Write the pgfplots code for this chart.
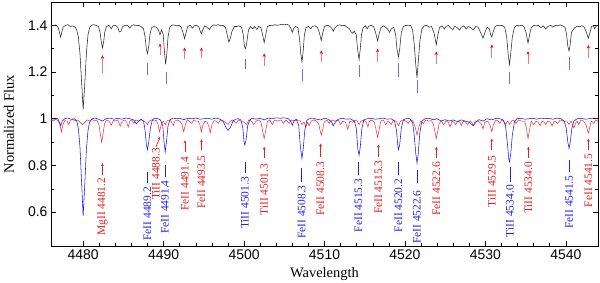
\documentclass[border=0pt]{standalone}
\usepackage{fontspec}
\setmainfont{Liberation Serif}
\setsansfont{Liberation Sans}
\usepackage{pgfplots}
\pgfplotsset{compat=1.18}
\usetikzlibrary{arrows.meta}
\definecolor{specblue}{RGB}{20,20,245}
\definecolor{specred}{RGB}{245,40,40}
\definecolor{lblblue}{RGB}{35,35,235}
\definecolor{lblred}{RGB}{230,30,30}
\definecolor{tickblue}{RGB}{110,110,230}
\definecolor{arrred}{RGB}{240,120,120}
\newcommand{\lbl}{\fontsize{11.5}{13}\selectfont}
\begin{document}
\begin{tikzpicture}
\begin{axis}[
  scale only axis, width=547bp, height=244bp,
  xmin=4476, xmax=4544, ymin=0.455, ymax=1.5,
  xtick={4480,4490,4500,4510,4520,4530,4540},
  ytick={0.6,0.8,1,1.2,1.4},
  minor x tick num=4, minor y tick num=1,
  xtick pos=both, ytick pos=both, tick align=inside,
  major tick length=5bp, minor tick length=3bp,
  every tick/.style={black, line width=0.5pt},
  axis line style={line width=0.7pt},
  /pgf/number format/assume math mode=true,
  x tick label style={font=\sffamily\fontsize{14}{16}\selectfont, /pgf/number format/1000 sep={}},
  y tick label style={font=\sffamily\fontsize{14}{16}\selectfont},
  xlabel={Wavelength}, ylabel={Normalized Flux},
  label style={font=\fontsize{14.5}{16}\selectfont},
  xlabel style={at={(axis description cs:0.5,-0.113)}, anchor=center},
  ylabel style={at={(axis description cs:-0.077,0.5)}, anchor=center},
  clip=true,
]
% black (combined) spectrum
\addplot[black!85, line width=0.55pt] coordinates {
(4476.0,1.400)(4476.3,1.398)(4476.6,1.402)(4476.9,1.39)(4477.05,1.37)(4477.2,1.350)(4477.35,1.372)(4477.5,1.392)(4477.8,1.400)(4478.1,1.403)(4478.4,1.395)(4478.7,1.398)(4479.0,1.392)(4479.2,1.38)(4479.4,1.35)(4479.6,1.28)(4479.8,1.16)(4480.0,1.04)(4480.2,1.15)(4480.4,1.28)(4480.6,1.36)(4480.8,1.39)(4481.0,1.400)(4481.3,1.403)(4481.6,1.400)(4481.9,1.395)(4482.1,1.37)(4482.25,1.33)(4482.4,1.303)(4482.55,1.33)(4482.7,1.375)(4482.9,1.395)(4483.2,1.400)(4483.5,1.385)(4483.7,1.398)(4484.0,1.400)(4484.3,1.392)(4484.5,1.372)(4484.7,1.375)(4484.9,1.395)(4485.2,1.400)(4485.5,1.400)(4485.8,1.388)(4486.0,1.398)(4486.3,1.403)(4486.6,1.398)(4486.9,1.400)(4487.2,1.395)(4487.5,1.385)(4487.7,1.35)(4487.85,1.30)(4488.0,1.279)(4488.15,1.31)(4488.3,1.36)(4488.5,1.390)(4488.8,1.395)(4489.1,1.392)(4489.35,1.38)(4489.55,1.360)(4489.75,1.38)(4489.95,1.36)(4490.1,1.29)(4490.25,1.233)(4490.4,1.28)(4490.55,1.35)(4490.75,1.390)(4491.0,1.400)(4491.3,1.402)(4491.6,1.398)(4491.9,1.400)(4492.2,1.392)(4492.4,1.37)(4492.6,1.343)(4492.8,1.37)(4493.0,1.395)(4493.3,1.400)(4493.6,1.388)(4493.8,1.398)(4494.1,1.400)(4494.4,1.392)(4494.55,1.375)(4494.7,1.364)(4494.85,1.38)(4495.1,1.398)(4495.4,1.392)(4495.7,1.382)(4495.95,1.396)(4496.2,1.402)(4496.5,1.400)(4496.8,1.403)(4497.1,1.398)(4497.4,1.400)(4497.7,1.39)(4497.9,1.36)(4498.1,1.329)(4498.3,1.345)(4498.5,1.375)(4498.8,1.395)(4499.1,1.395)(4499.4,1.398)(4499.7,1.39)(4499.9,1.36)(4500.05,1.31)(4500.2,1.300)(4500.35,1.33)(4500.55,1.38)(4500.8,1.395)(4501.1,1.385)(4501.3,1.395)(4501.6,1.382)(4501.8,1.395)(4502.1,1.39)(4502.3,1.36)(4502.5,1.326)(4502.7,1.36)(4502.9,1.395)(4503.2,1.400)(4503.5,1.398)(4503.8,1.403)(4504.1,1.400)(4504.4,1.402)(4504.7,1.405)(4505.0,1.402)(4505.3,1.405)(4505.6,1.400)(4505.85,1.385)(4506.0,1.370)(4506.15,1.385)(4506.4,1.395)(4506.7,1.390)(4506.9,1.34)(4507.05,1.28)(4507.2,1.243)(4507.35,1.29)(4507.5,1.36)(4507.7,1.390)(4508.0,1.395)(4508.3,1.385)(4508.5,1.396)(4508.8,1.398)(4509.1,1.392)(4509.35,1.37)(4509.6,1.336)(4509.8,1.37)(4510.0,1.395)(4510.3,1.400)(4510.6,1.398)(4510.9,1.388)(4511.1,1.375)(4511.3,1.39)(4511.6,1.400)(4511.9,1.402)(4512.2,1.398)(4512.5,1.400)(4512.8,1.392)(4513.1,1.385)(4513.3,1.372)(4513.5,1.366)(4513.7,1.375)(4513.95,1.36)(4514.1,1.30)(4514.3,1.253)(4514.45,1.30)(4514.6,1.36)(4514.8,1.390)(4515.1,1.398)(4515.3,1.385)(4515.5,1.396)(4515.8,1.400)(4516.1,1.395)(4516.35,1.37)(4516.6,1.333)(4516.8,1.365)(4517.0,1.39)(4517.3,1.398)(4517.6,1.392)(4517.9,1.382)(4518.1,1.370)(4518.3,1.385)(4518.6,1.392)(4518.85,1.36)(4519.0,1.30)(4519.2,1.264)(4519.35,1.30)(4519.55,1.37)(4519.8,1.395)(4520.1,1.400)(4520.4,1.398)(4520.7,1.400)(4520.95,1.38)(4521.15,1.32)(4521.35,1.23)(4521.5,1.176)(4521.65,1.24)(4521.85,1.33)(4522.1,1.385)(4522.4,1.398)(4522.7,1.400)(4523.0,1.392)(4523.3,1.395)(4523.6,1.37)(4523.9,1.317)(4524.1,1.36)(4524.3,1.390)(4524.6,1.398)(4524.9,1.385)(4525.1,1.395)(4525.4,1.400)(4525.7,1.388)(4525.95,1.382)(4526.2,1.396)(4526.5,1.390)(4526.8,1.380)(4527.0,1.392)(4527.3,1.398)(4527.6,1.385)(4527.9,1.395)(4528.2,1.390)(4528.5,1.38)(4528.8,1.395)(4529.1,1.392)(4529.4,1.37)(4529.7,1.345)(4529.95,1.37)(4530.2,1.392)(4530.5,1.385)(4530.65,1.36)(4530.8,1.350)(4530.95,1.37)(4531.2,1.395)(4531.5,1.400)(4531.8,1.398)(4532.1,1.400)(4532.4,1.392)(4532.65,1.35)(4532.85,1.27)(4533.0,1.232)(4533.15,1.28)(4533.35,1.35)(4533.6,1.390)(4533.9,1.400)(4534.2,1.398)(4534.5,1.400)(4534.8,1.395)(4535.05,1.37)(4535.3,1.324)(4535.5,1.36)(4535.7,1.390)(4536.0,1.400)(4536.3,1.398)(4536.6,1.400)(4536.9,1.390)(4537.2,1.398)(4537.5,1.385)(4537.8,1.396)(4538.1,1.400)(4538.4,1.392)(4538.7,1.400)(4539.0,1.398)(4539.3,1.402)(4539.6,1.398)(4539.9,1.392)(4540.1,1.36)(4540.25,1.31)(4540.4,1.290)(4540.55,1.32)(4540.7,1.37)(4540.9,1.380)(4541.1,1.390)(4541.4,1.396)(4541.7,1.394)(4542.0,1.398)(4542.3,1.392)(4542.55,1.37)(4542.8,1.345)(4543.0,1.37)(4543.2,1.395)(4543.45,1.398)(4543.6,1.385)(4543.8,1.398)(4544.0,1.400)
};
% red spectrum
\addplot[specred, line width=0.5pt] coordinates {
(4476.0,0.995)(4476.3,0.99)(4476.6,0.998)(4476.9,0.99)(4477.1,0.975)(4477.3,0.944)(4477.5,0.975)(4477.7,0.992)(4478.0,0.99)(4478.2,0.975)(4478.4,0.993)(4478.7,0.998)(4479.0,0.99)(4479.3,0.995)(4479.6,0.985)(4479.9,0.975)(4480.2,0.985)(4480.5,0.995)(4480.8,0.99)(4481.1,0.998)(4481.4,0.99)(4481.7,0.995)(4481.95,0.975)(4482.15,0.93)(4482.3,0.900)(4482.45,0.93)(4482.65,0.978)(4482.9,0.995)(4483.2,0.99)(4483.5,0.972)(4483.75,0.993)(4484.0,0.99)(4484.3,0.995)(4484.6,0.968)(4484.85,0.99)(4485.2,0.995)(4485.4,0.985)(4485.6,0.964)(4485.8,0.99)(4486.05,0.995)(4486.3,0.98)(4486.55,0.995)(4486.9,0.99)(4487.2,0.996)(4487.5,0.99)(4487.8,0.985)(4488.0,0.975)(4488.2,0.99)(4488.5,0.995)(4488.8,0.99)(4489.1,0.993)(4489.3,0.975)(4489.5,0.944)(4489.7,0.975)(4489.95,0.99)(4490.2,0.975)(4490.45,0.992)(4490.8,0.995)(4491.0,0.985)(4491.2,0.972)(4491.4,0.99)(4491.7,0.995)(4492.0,0.99)(4492.3,0.975)(4492.5,0.944)(4492.7,0.975)(4492.95,0.995)(4493.2,0.99)(4493.5,0.98)(4493.75,0.995)(4494.0,0.99)(4494.3,0.99)(4494.5,0.975)(4494.7,0.944)(4494.9,0.975)(4495.15,0.99)(4495.4,0.985)(4495.6,0.97)(4495.8,0.940)(4496.0,0.975)(4496.25,0.992)(4496.5,0.99)(4496.8,0.98)(4497.05,0.995)(4497.4,0.99)(4497.7,0.985)(4498.0,0.975)(4498.3,0.99)(4498.6,0.995)(4499.0,0.98)(4499.3,0.995)(4499.6,0.99)(4500.0,0.985)(4500.3,0.975)(4500.6,0.995)(4500.9,0.99)(4501.2,0.975)(4501.5,0.99)(4501.8,0.995)(4502.1,0.985)(4502.3,0.95)(4502.5,0.915)(4502.7,0.95)(4502.9,0.988)(4503.2,0.995)(4503.5,0.975)(4503.8,0.995)(4504.2,0.99)(4504.6,0.995)(4504.9,0.98)(4505.2,0.995)(4505.6,0.98)(4505.9,0.995)(4506.3,0.99)(4506.7,0.995)(4507.0,0.99)(4507.2,0.975)(4507.45,0.985)(4507.7,0.965)(4507.9,0.985)(4508.1,0.97)(4508.35,0.99)(4508.7,0.995)(4509.0,0.99)(4509.3,0.975)(4509.45,0.95)(4509.6,0.930)(4509.75,0.95)(4509.95,0.985)(4510.3,0.995)(4510.6,0.98)(4510.9,0.995)(4511.3,0.99)(4511.7,0.995)(4512.0,0.975)(4512.3,0.99)(4512.6,0.985)(4512.9,0.955)(4513.15,0.99)(4513.5,0.985)(4513.8,0.995)(4514.05,0.99)(4514.3,0.975)(4514.55,0.99)(4514.9,0.995)(4515.2,0.985)(4515.4,0.965)(4515.6,0.99)(4515.9,0.995)(4516.2,0.985)(4516.4,0.955)(4516.6,0.920)(4516.8,0.955)(4517.0,0.99)(4517.3,0.995)(4517.6,0.975)(4517.9,0.99)(4518.1,0.985)(4518.3,0.975)(4518.55,0.993)(4518.9,0.99)(4519.2,0.970)(4519.45,0.99)(4519.8,0.995)(4520.1,0.99)(4520.4,0.98)(4520.7,0.995)(4521.0,0.99)(4521.3,0.96)(4521.5,0.930)(4521.7,0.96)(4521.95,0.99)(4522.3,0.98)(4522.6,0.995)(4522.95,0.99)(4523.3,0.992)(4523.55,0.975)(4523.75,0.94)(4523.9,0.915)(4524.05,0.94)(4524.25,0.98)(4524.5,0.99)(4524.8,0.975)(4525.1,0.99)(4525.4,0.985)(4525.6,0.965)(4525.85,0.99)(4526.1,0.985)(4526.3,0.975)(4526.6,0.99)(4526.85,0.985)(4527.0,0.97)(4527.25,0.99)(4527.55,0.985)(4527.8,0.975)(4528.1,0.99)(4528.3,0.985)(4528.5,0.970)(4528.75,0.99)(4529.1,0.99)(4529.45,0.98)(4529.7,0.957)(4529.95,0.985)(4530.3,0.99)(4530.6,0.97)(4530.8,0.944)(4531.0,0.975)(4531.3,0.995)(4531.6,0.99)(4531.8,0.98)(4532.05,0.995)(4532.3,0.99)(4532.5,0.975)(4532.75,0.99)(4533.0,0.975)(4533.25,0.99)(4533.55,0.995)(4533.8,0.98)(4534.1,0.995)(4534.5,0.99)(4534.9,0.99)(4535.1,0.96)(4535.3,0.915)(4535.5,0.955)(4535.7,0.99)(4536.0,0.975)(4536.3,0.99)(4536.55,0.985)(4536.8,0.970)(4537.05,0.99)(4537.3,0.985)(4537.5,0.975)(4537.75,0.99)(4538.05,0.985)(4538.3,0.970)(4538.55,0.99)(4538.8,0.985)(4539.0,0.98)(4539.3,0.995)(4539.7,0.99)(4540.1,0.99)(4540.4,0.975)(4540.65,0.99)(4540.85,0.975)(4541.0,0.960)(4541.2,0.98)(4541.4,0.99)(4541.6,0.975)(4541.85,0.995)(4542.2,0.99)(4542.5,0.975)(4542.65,0.955)(4542.8,0.937)(4542.95,0.96)(4543.15,0.99)(4543.35,0.985)(4543.5,0.98)(4543.7,0.995)(4544.0,0.99)
};
% blue spectrum
\addplot[specblue, line width=0.55pt] coordinates {
(4476.0,1.000)(4476.4,0.998)(4476.8,1.002)(4477.0,0.99)(4477.2,0.970)(4477.4,0.99)(4477.7,1.000)(4478.1,1.003)(4478.5,0.998)(4478.9,1.000)(4479.2,0.99)(4479.4,0.96)(4479.6,0.88)(4479.8,0.73)(4480.0,0.583)(4480.2,0.72)(4480.4,0.87)(4480.6,0.95)(4480.8,0.985)(4481.1,1.000)(4481.5,1.003)(4481.9,0.998)(4482.4,0.99)(4482.8,1.000)(4483.3,1.003)(4483.8,0.998)(4484.3,1.002)(4484.8,0.998)(4485.3,1.003)(4485.8,1.000)(4486.3,0.995)(4486.6,0.978)(4486.9,0.99)(4487.2,0.998)(4487.5,0.99)(4487.7,0.95)(4487.85,0.89)(4488.0,0.868)(4488.15,0.90)(4488.35,0.96)(4488.6,0.995)(4488.9,1.002)(4489.3,1.000)(4489.6,0.995)(4489.9,0.97)(4490.05,0.90)(4490.2,0.858)(4490.35,0.90)(4490.55,0.97)(4490.8,0.995)(4491.2,1.003)(4491.6,1.000)(4492.0,1.002)(4492.5,0.996)(4493.0,1.002)(4493.5,1.000)(4494.0,1.003)(4494.5,0.998)(4495.0,1.000)(4495.5,1.002)(4496.0,0.998)(4496.5,1.003)(4497.0,0.998)(4497.4,0.99)(4497.7,0.965)(4498.0,0.950)(4498.3,0.962)(4498.6,0.988)(4498.9,0.998)(4499.3,1.000)(4499.6,0.995)(4499.85,0.96)(4500.0,0.90)(4500.1,0.887)(4500.25,0.91)(4500.45,0.97)(4500.7,0.995)(4501.0,1.002)(4501.5,0.998)(4502.0,1.002)(4502.5,0.995)(4503.0,1.003)(4503.5,1.000)(4504.0,1.004)(4504.5,1.002)(4505.0,1.004)(4505.5,1.000)(4505.8,0.99)(4506.0,0.972)(4506.2,0.99)(4506.5,0.998)(4506.8,0.97)(4507.0,0.88)(4507.2,0.830)(4507.35,0.87)(4507.55,0.95)(4507.8,0.993)(4508.1,1.000)(4508.5,1.003)(4509.0,0.998)(4509.5,0.995)(4510.0,1.002)(4510.5,0.998)(4510.9,0.985)(4511.1,0.970)(4511.35,0.985)(4511.7,0.998)(4512.2,1.002)(4512.7,0.998)(4513.2,1.000)(4513.7,0.99)(4513.95,0.96)(4514.15,0.87)(4514.3,0.844)(4514.45,0.88)(4514.65,0.96)(4514.9,0.995)(4515.3,1.000)(4515.8,1.002)(4516.3,0.998)(4516.8,1.000)(4517.3,1.003)(4517.8,0.998)(4518.3,1.000)(4518.7,0.99)(4518.95,0.95)(4519.1,0.89)(4519.2,0.868)(4519.35,0.89)(4519.55,0.96)(4519.8,0.995)(4520.2,1.002)(4520.6,1.000)(4520.95,0.985)(4521.15,0.93)(4521.35,0.85)(4521.5,0.810)(4521.65,0.85)(4521.85,0.94)(4522.1,0.99)(4522.5,1.000)(4523.0,1.002)(4523.5,0.996)(4524.0,1.000)(4524.5,0.990)(4525.0,0.996)(4525.5,0.990)(4526.0,0.995)(4526.5,0.988)(4527.0,0.995)(4527.5,0.99)(4528.0,0.985)(4528.5,0.970)(4528.8,0.985)(4529.2,0.996)(4529.7,0.99)(4530.2,1.000)(4530.8,0.995)(4531.3,1.002)(4531.8,1.000)(4532.2,0.995)(4532.5,0.97)(4532.75,0.89)(4532.9,0.83)(4533.0,0.815)(4533.15,0.85)(4533.35,0.93)(4533.6,0.985)(4533.9,1.000)(4534.4,1.002)(4534.9,0.998)(4535.4,1.000)(4535.9,1.002)(4536.4,0.998)(4536.9,1.003)(4537.4,1.000)(4537.9,1.002)(4538.4,0.998)(4538.9,1.003)(4539.4,1.000)(4539.8,0.99)(4540.05,0.96)(4540.25,0.90)(4540.4,0.873)(4540.55,0.90)(4540.75,0.96)(4541.0,0.99)(4541.4,1.000)(4541.9,1.002)(4542.4,0.998)(4542.9,1.000)(4543.4,1.003)(4544.0,1.000)
};
% --- top markers: red arrows under red-star lines
\addplot[arrred, line width=0.8pt, -{Stealth[length=3.5bp,width=3.2bp,red]},
  quiver={u=0, v=\thisrow{v}}] table[x=x, y=y] {
x y v
4482.4 1.195 0.077
4489.55 1.272 0.050
4492.6 1.258 0.047
4494.7 1.260 0.045
4502.5 1.225 0.055
4509.6 1.243 0.050
4516.6 1.243 0.057
4523.9 1.236 0.052
4530.8 1.262 0.056
4535.3 1.236 0.054
4542.8 1.259 0.057
};
% --- top markers: blue ticks under blue-star lines
\addplot[tickblue, line width=0.8pt, quiver={u=0, v=\thisrow{v}}] table[x=x, y=y] {
x y v
4488.0 1.186 0.053
4490.3 1.150 0.050
4500.2 1.215 0.040
4507.2 1.162 0.053
4514.3 1.179 0.050
4519.2 1.179 0.058
4521.5 1.110 0.055
4533.0 1.150 0.050
4540.4 1.210 0.054
};
% --- bottom blue identification ticks
\addplot[lblblue, line width=0.7pt, quiver={u=0, v=\thisrow{v}}] table[x=x, y=y] {
x y v
4487.97 0.723 0.049
4490.17 0.750 0.050
4500.1 0.766 0.049
4507.17 0.730 0.057
4514.2 0.758 0.057
4519.2 0.758 0.057
4521.5 0.723 0.057
4533.06 0.730 0.064
4540.4 0.773 0.049
};
% --- bottom red identification arrows
\addplot[lblred, line width=0.7pt, -{Stealth[length=3bp,width=2.8bp]}, quiver={u=\thisrow{u}, v=\thisrow{v}}] table[x=x, y=y] {
x y u v
4482.4 0.760 0 0.050
4489.05 0.880 0.5 0.042
4492.66 0.858 0 0.050
4494.7 0.865 0 0.047
4502.5 0.830 0 0.050
4509.5 0.837 0 0.057
4516.7 0.837 0 0.053
4523.9 0.830 0 0.050
4530.8 0.865 0 0.050
4535.35 0.830 0 0.050
4542.8 0.865 0 0.050
};
% --- labels
\foreach \x/\c/\t in {4487.97/0.708/FeII 4489.2, 4490.17/0.737/FeII 4491.4, 4500.1/0.751/TiII 4501.3, 4507.17/0.716/FeII 4508.3, 4514.2/0.744/FeII 4515.3, 4519.2/0.744/FeII 4520.2, 4521.5/0.694/FeII 4522.6, 4533.06/0.716/TiII 4534.0, 4540.4/0.758/FeII 4541.5}{
  \edef\tmp{\noexpand\node[lblblue, rotate=90, anchor=east, inner sep=0pt, font=\noexpand\lbl] at (axis cs:\x,\c) {\t};}\tmp
}
\foreach \x/\c/\t in {4482.4/0.748/MgII 4481.2, 4489.05/0.875/TiII 4488.3, 4492.66/0.837/FeII 4491.4, 4494.7/0.844/FeII 4493.5, 4502.5/0.808/TiII 4501.3, 4509.5/0.815/FeII 4508.3, 4516.7/0.822/FeII 4515.3, 4523.9/0.815/FeII 4522.6, 4530.8/0.844/TiII 4529.5, 4535.35/0.815/TiII 4534.0, 4542.8/0.851/FeII 4541.5}{
  \edef\tmp{\noexpand\node[lblred, rotate=90, anchor=east, inner sep=0pt, font=\noexpand\lbl] at (axis cs:\x,\c) {\t};}\tmp
}
\coordinate (SW) at (rel axis cs:0,0);
\coordinate (NE) at (rel axis cs:1,1);
\end{axis}
\pgfresetboundingbox
\path ([shift={(-51bp,-36bp)}]SW) rectangle ([shift={(2bp,2bp)}]NE);
\end{tikzpicture}
\end{document}
